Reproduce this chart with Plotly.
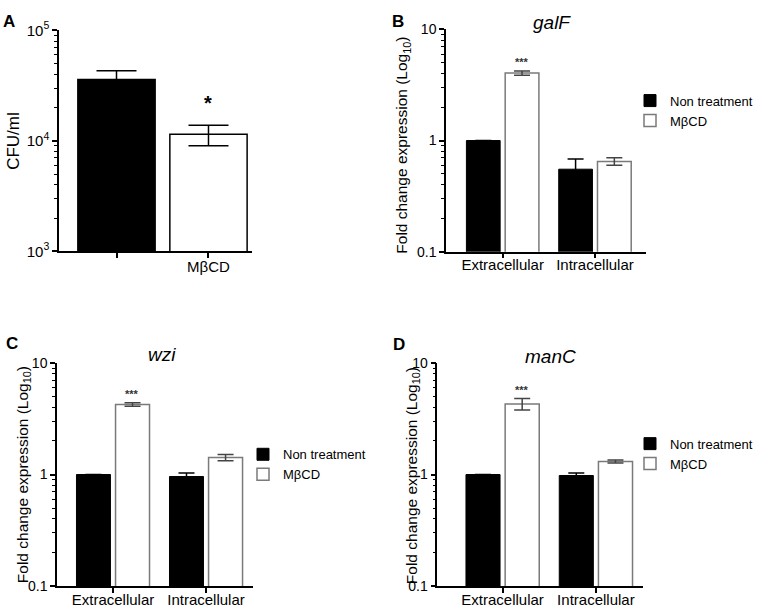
import math
import plotly.graph_objects as go

# ---------------- data ----------------
# Panel A: CFU/ml
A_groups = ["Non treatment", "MβCD"]
A_ticklabels = ["", "MβCD"]
A_values = [35900, 11450]
A_sem = [7100, 2400]
A_sig = ["", "*"]

# Panels B-D: fold change expression
locations = ["Extracellular", "Intracellular"]
series_names = ["Non treatment", "MβCD"]

galF_non = [1.0, 0.552]
galF_non_sem = [0.0, 0.13]
galF_mbcd = [4.05, 0.648]
galF_mbcd_sem = [0.18, 0.05]

wzi_non = [1.0, 0.96]
wzi_non_sem = [0.0, 0.07]
wzi_mbcd = [4.25, 1.42]
wzi_mbcd_sem = [0.15, 0.09]

manC_non = [1.0, 0.98]
manC_non_sem = [0.0, 0.05]
manC_mbcd = [4.3, 1.31]
manC_mbcd_sem = [0.5, 0.04]

gene_titles = ["galF", "wzi", "manC"]
sig_label = "***"

W, H = 758, 615
FONT = "Liberation Sans, Arial, sans-serif"


def px(x):
    return x / W


def py(y):
    return 1 - y / H


fig = go.Figure()

# ---------- Panel A ----------
fig.add_trace(go.Bar(
    x=A_groups, y=A_values, xaxis="x", yaxis="y",
    width=0.84,
    marker=dict(color=["black", "white"], line=dict(color="black", width=1.5)),
    error_y=dict(type="data", array=A_sem, color="black", thickness=1.5, width=20),
    showlegend=False,
))

# ---------- Panels B-D ----------
panels = [
    ("x2", "y2", "legend", galF_non, galF_non_sem, galF_mbcd, galF_mbcd_sem),
    ("x3", "y3", "legend2", wzi_non, wzi_non_sem, wzi_mbcd, wzi_mbcd_sem),
    ("x4", "y4", "legend3", manC_non, manC_non_sem, manC_mbcd, manC_mbcd_sem),
]
for xa, ya, lg, non, non_sem, mb, mb_sem in panels:
    fig.add_trace(go.Bar(
        x=locations, y=non, name=series_names[0], xaxis=xa, yaxis=ya, legend=lg,
        marker=dict(color="black", line=dict(color="black", width=1)),
        error_y=dict(type="data", array=non_sem, color="black", thickness=1.5, width=8),
    ))
    fig.add_trace(go.Bar(
        x=locations, y=mb, name=series_names[1], xaxis=xa, yaxis=ya, legend=lg,
        marker=dict(color="white", line=dict(color="#7a7a7a", width=1.5)),
        error_y=dict(type="data", array=mb_sem, color="#444444", thickness=1.5, width=8),
    ))

# ---------- axes ----------
axis_common = dict(showline=True, linecolor="black", linewidth=1.5, ticks="outside",
                   tickcolor="black", tickwidth=1.5, ticklen=5, showgrid=False,
                   zeroline=False, fixedrange=True)


def minor_vals(e0, e1):
    return [k * 10 ** e for e in range(e0, e1) for k in range(2, 10)]


# domains (pixel derived)
dom = {
    "A": ([59, 252], [20, 248]),
    "B": ([446, 646], [19, 248.3]),
    "C": ([57, 253], [363.3, 593.3]),
    "D": ([437.3, 643], [363.3, 593.3]),
}
xr = {"A": [-0.625, 1.473], "B": [-0.614, 1.553], "C": [-0.602, 1.505], "D": [-0.70, 1.505]}


def xd(k):
    a, b = dom[k][0]
    return [px(a), px(b)]


def yd(k):
    a, b = dom[k][1]
    return [py(b), py(a)]


fig.update_layout(
    xaxis=dict(domain=xd("A"), anchor="y", type="category", range=xr["A"],
               tickvals=A_groups, ticktext=A_ticklabels, ticklabelstandoff=-4,
               tickfont=dict(size=15, color="black"), **axis_common),
    yaxis=dict(domain=yd("A"), anchor="x", type="log", range=[3, 5],
               tickvals=[1e3, 1e4, 1e5], ticktext=["10<sup>3</sup>", "10<sup>4</sup>", "10<sup>5</sup>"],
               tickfont=dict(size=15, color="black"),
               minor=dict(ticks="outside", ticklen=3, tickwidth=1.2, tickcolor="black",
                          tickvals=minor_vals(3, 5)),
               **axis_common),
)
for i, k in enumerate(["B", "C", "D"], start=2):
    fig.update_layout(**{
        f"xaxis{i}": dict(domain=xd(k), anchor=f"y{i}", type="category", range=xr[k],
                          ticklabelstandoff=-6,
                          tickfont=dict(size=15, color="black"), **axis_common),
        f"yaxis{i}": dict(domain=yd(k), anchor=f"x{i}", type="log", range=[-1, 1],
                          tickvals=[0.1, 1, 10], ticktext=["0.1", "1", "10"],
                          tickfont=dict(size=14, color="black"),
                          minor=dict(ticks="outside", ticklen=3, tickwidth=1.2, tickcolor="black",
                                     tickvals=minor_vals(-1, 1)),
                          **axis_common),
    })

legend_style = dict(font=dict(family=FONT, size=13, color="black"), bgcolor="rgba(0,0,0,0)",
                    yanchor="top", tracegroupgap=0, itemwidth=30,
                    itemclick=False, itemdoubleclick=False)
fig.update_layout(
    legend=dict(x=1, xanchor="right", y=py(77), **legend_style),
    legend2=dict(x=px(243), xanchor="left", y=py(442), **legend_style),
    legend3=dict(x=1, xanchor="right", y=py(431), **legend_style),
)

# ---------- annotations ----------
ann = []
# panel letters
for letter, (x, y) in zip("ABCD", [(9, 11), (398, 11), (12, 343), (399, 344)]):
    ann.append(dict(text=f"<b>{letter}</b>", x=px(x), y=py(y), xref="paper", yref="paper",
                    showarrow=False, xanchor="center", yanchor="middle",
                    font=dict(family=FONT, size=17, color="black")))
# gene titles
for t, (x, y) in zip(gene_titles, [(552, 12), (162, 354), (550, 356)]):
    ann.append(dict(text=f"<i>{t}</i>", x=px(x), y=py(y), xref="paper", yref="paper",
                    showarrow=False, xanchor="center", yanchor="middle",
                    font=dict(family=FONT, size=19, color="black")))
# y-axis titles
ann.append(dict(text="CFU/ml", x=px(14), y=py(134), xref="paper", yref="paper", textangle=-90,
                showarrow=False, xanchor="center", yanchor="middle",
                font=dict(family=FONT, size=17, color="black")))
for (x, y) in [(403, 139), (23, 479), (412, 480)]:
    ann.append(dict(text="Fold change expression (Log<sub>10</sub>)", x=px(x), y=py(y),
                    xref="paper", yref="paper", textangle=-90, showarrow=False,
                    xanchor="center", yanchor="middle",
                    font=dict(family=FONT, size=15.5, color="black")))
# significance marks
for g, v, s, sig in zip(A_groups, A_values, A_sem, A_sig):
    if sig:
        ann.append(dict(text=f"<b>{sig}</b>", x=g, y=math.log10(v + s), xref="x", yref="y",
                        showarrow=False, yanchor="bottom", yshift=9,
                        font=dict(family=FONT, size=20, color="black")))
for (xa, ya, lg, non, non_sem, mb, mb_sem) in panels:
    ann.append(dict(text=f"<b>{sig_label}</b>", x=locations[0], y=math.log10(mb[0] + mb_sem[0]),
                    xref=xa, yref=ya, showarrow=False, yanchor="bottom", yshift=1, xshift=19,
                    font=dict(family=FONT, size=11, color="#333333")))

fig.update_layout(
    width=W, height=H,
    margin=dict(l=0, r=0, t=0, b=0),
    paper_bgcolor="white", plot_bgcolor="white",
    font=dict(family=FONT, color="black"),
    barmode="group", bargap=0.16, bargroupgap=0.13,
    annotations=ann,
)

fig.write_html("out.html", config={"displayModeBar": False},
               post_script="document.body.style.margin='0px';document.body.style.padding='0px';")
